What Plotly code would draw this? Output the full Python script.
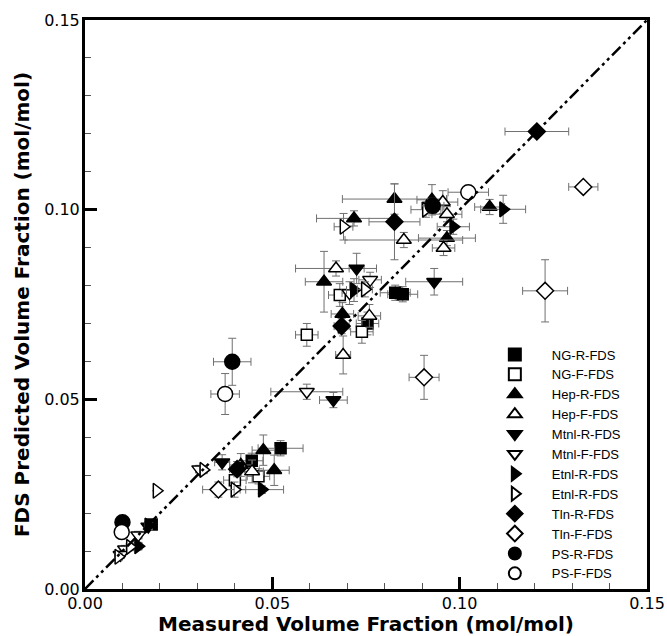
import plotly.graph_objects as go

# ---- data (measured x, predicted y, x error, y error) ----
ng_r_x = [0.0828, 0.0848, 0.0754, 0.0445, 0.0522, 0.0178]
ng_r_y = [0.0781, 0.0777, 0.0700, 0.0338, 0.0371, 0.0170]
ng_r_ex = [0.004, 0.004, 0.003, 0.003, 0.006, 0.001]
ng_r_ey = [0.002, 0.002, 0.003, 0.002, 0.002, 0.001]

ng_f_x = [0.0592, 0.0680, 0.0739, 0.0463, 0.0400]
ng_f_y = [0.0670, 0.0775, 0.0678, 0.0297, 0.0287]
ng_f_ex = [0.003, 0.003, 0.003, 0.003, 0.003]
ng_f_ey = [0.003, 0.003, 0.003, 0.002, 0.002]

hep_r_x = [0.0826, 0.0718, 0.0926, 0.1080, 0.0966, 0.0638, 0.0687, 0.0416, 0.0476, 0.0505]
hep_r_y = [0.1028, 0.0977, 0.1026, 0.1007, 0.0925, 0.0810, 0.0725, 0.0327, 0.0366, 0.0313]
hep_r_ex = [0.0139, 0.010, 0.004, 0.004, 0.0076, 0.005, 0.003, 0.003, 0.003, 0.004]
hep_r_ey = [0.004, 0.002, 0.004, 0.002, 0.002, 0.008, 0.003, 0.003, 0.004, 0.004]

hep_f_x = [0.0955, 0.0966, 0.0957, 0.0851, 0.0670, 0.0759, 0.0689, 0.0446]
hep_f_y = [0.1020, 0.0988, 0.0899, 0.0920, 0.0845, 0.0720, 0.0617, 0.0310]
hep_f_ex = [0.004, 0.004, 0.003, 0.0157, 0.0108, 0.003, 0.002, 0.003]
hep_f_ey = [0.003, 0.002, 0.002, 0.002, 0.002, 0.003, 0.005, 0.003]

mtnl_r_x = [0.0725, 0.0932, 0.0663, 0.0366, 0.0169]
mtnl_r_y = [0.0845, 0.0810, 0.0498, 0.0334, 0.0165]
mtnl_r_ex = [0.002, 0.0076, 0.0037, 0.002, 0.001]
mtnl_r_ey = [0.004, 0.0035, 0.002, 0.002, 0.001]

mtnl_f_x = [0.0761, 0.0706, 0.0592, 0.0305, 0.0142, 0.0107, 0.0095]
mtnl_f_y = [0.0815, 0.0780, 0.0520, 0.0316, 0.0142, 0.0105, 0.0090]
mtnl_f_ex = [0.003, 0.002, 0.0096, 0.001, 0.001, 0.001, 0.001]
mtnl_f_ey = [0.002, 0.003, 0.002, 0.001, 0.001, 0.001, 0.001]

etnl_r_x = [0.1116, 0.0983, 0.0718, 0.0472, 0.0169, 0.0142]
etnl_r_y = [0.1001, 0.0955, 0.0788, 0.0262, 0.0167, 0.0113]
etnl_r_ex = [0.006, 0.0043, 0.002, 0.0058, 0.001, 0.001]
etnl_r_ey = [0.0037, 0.002, 0.003, 0.001, 0.001, 0.001]

etnl_f_x = [0.0910, 0.0690, 0.0747, 0.0399, 0.0316, 0.0191, 0.0120, 0.0089]
etnl_f_y = [0.1000, 0.0955, 0.0790, 0.0262, 0.0314, 0.0259, 0.0111, 0.0085]
etnl_f_ex = [0.004, 0.0025, 0.002, 0.003, 0.001, 0.0, 0.001, 0.001]
etnl_f_ey = [0.002, 0.0035, 0.002, 0.002, 0.001, 0.0, 0.001, 0.001]

tln_r_x = [0.1206, 0.0826, 0.0685, 0.0406]
tln_r_y = [0.1206, 0.0968, 0.0693, 0.0316]
tln_r_ex = [0.0085, 0.0068, 0.002, 0.002]
tln_r_ey = [0.0, 0.010, 0.002, 0.002]

tln_f_x = [0.1330, 0.1228, 0.0905, 0.0356]
tln_f_y = [0.1060, 0.0786, 0.0558, 0.0262]
tln_f_ex = [0.0039, 0.006, 0.004, 0.0042]
tln_f_ey = [0.0, 0.0082, 0.0058, 0.002]

ps_r_x = [0.0928, 0.0393, 0.0100]
ps_r_y = [0.1010, 0.0599, 0.0176]
ps_r_ex = [0.003, 0.005, 0.0]
ps_r_ey = [0.002, 0.0062, 0.0]

ps_f_x = [0.1023, 0.0374, 0.0098]
ps_f_y = [0.1046, 0.0514, 0.0150]
ps_f_ex = [0.0054, 0.0038, 0.0]
ps_f_ey = [0.0, 0.0054, 0.0]

series_names = ["NG-R-FDS", "NG-F-FDS", "Hep-R-FDS", "Hep-F-FDS", "Mtnl-R-FDS",
                "Mtnl-F-FDS", "Etnl-R-FDS", "Etnl-R-FDS", "Tln-R-FDS", "Tln-F-FDS",
                "PS-R-FDS", "PS-F-FDS"]
series_data = [
    (ng_r_x, ng_r_y, ng_r_ex, ng_r_ey),
    (ng_f_x, ng_f_y, ng_f_ex, ng_f_ey),
    (hep_r_x, hep_r_y, hep_r_ex, hep_r_ey),
    (hep_f_x, hep_f_y, hep_f_ex, hep_f_ey),
    (mtnl_r_x, mtnl_r_y, mtnl_r_ex, mtnl_r_ey),
    (mtnl_f_x, mtnl_f_y, mtnl_f_ex, mtnl_f_ey),
    (etnl_r_x, etnl_r_y, etnl_r_ex, etnl_r_ey),
    (etnl_f_x, etnl_f_y, etnl_f_ex, etnl_f_ey),
    (tln_r_x, tln_r_y, tln_r_ex, tln_r_ey),
    (tln_f_x, tln_f_y, tln_f_ex, tln_f_ey),
    (ps_r_x, ps_r_y, ps_r_ex, ps_r_ey),
    (ps_f_x, ps_f_y, ps_f_ex, ps_f_ey),
]
line_x = [0.0, 0.15]
line_y = [0.0, 0.15]

# ---- styles ----
symbols = ["square", "square", "triangle-up", "triangle-up", "triangle-down",
           "triangle-down", "triangle-right", "triangle-right", "diamond", "diamond",
           "circle", "circle"]
fills = ["black", "white"] * 6
sizes = [11, 11, 13, 13, 13, 13, 13, 13, 13, 13, 15, 15]

FONT = "Arial, Liberation Sans, sans-serif"
WIDE = "DejaVu Sans, sans-serif"

fig = go.Figure()
err_col = "#707070"
for name, (xs, ys, exs, eys), sym, fc, sz in zip(series_names, series_data, symbols, fills, sizes):
    fig.add_trace(go.Scatter(
        x=xs, y=ys, mode="markers", name=name,
        marker=dict(symbol=sym, size=sz, color=fc, line=dict(color="black", width=1.5)),
        error_x=dict(type="data", array=exs, color=err_col, thickness=1, width=4),
        error_y=dict(type="data", array=eys, color=err_col, thickness=1, width=4),
    ))

fig.add_trace(go.Scatter(
    x=line_x, y=line_y, mode="lines", showlegend=False, hoverinfo="skip",
    line=dict(color="black", width=2.5, dash="12px,4px,3px,4px,3px,4px"),
))

axis_common = dict(
    range=[0, 0.15], dtick=0.05, tickformat=".2f",
    ticks="inside", ticklen=12, tickwidth=3, tickcolor="black",
    showline=True, linewidth=3, linecolor="black", mirror=True,
    showgrid=False, zeroline=False,
    tickfont=dict(family=WIDE, size=16, color="black"),
    minor=dict(dtick=0.01, ticks="inside", ticklen=6, tickwidth=1, tickcolor="#555555"),
)

fig.update_layout(
    width=667, height=636,
    margin=dict(l=85, r=20, t=20, b=47, autoexpand=False),
    paper_bgcolor="white", plot_bgcolor="white",
    xaxis=dict(**axis_common, ticklabelstandoff=-2,
               title=dict(text="<b>Measured Volume Fraction (mol/mol)</b>", standoff=3,
                          font=dict(family=WIDE, size=20, color="black"))),
    yaxis=dict(**axis_common, ticklabelstandoff=-1,
               title=dict(text="<b>FDS Predicted Volume Fraction (mol/mol)</b>", standoff=10,
                          font=dict(family=WIDE, size=20, color="black"))),
    legend=dict(x=0.699, y=0.2197, xanchor="left", yanchor="middle",
                bgcolor="rgba(0,0,0,0)", borderwidth=0, itemsizing="constant",
                itemwidth=64,
                font=dict(family=FONT, size=13, color="black"),
                tracegroupgap=0),
    showlegend=True,
)

fig.write_html("out.html")
